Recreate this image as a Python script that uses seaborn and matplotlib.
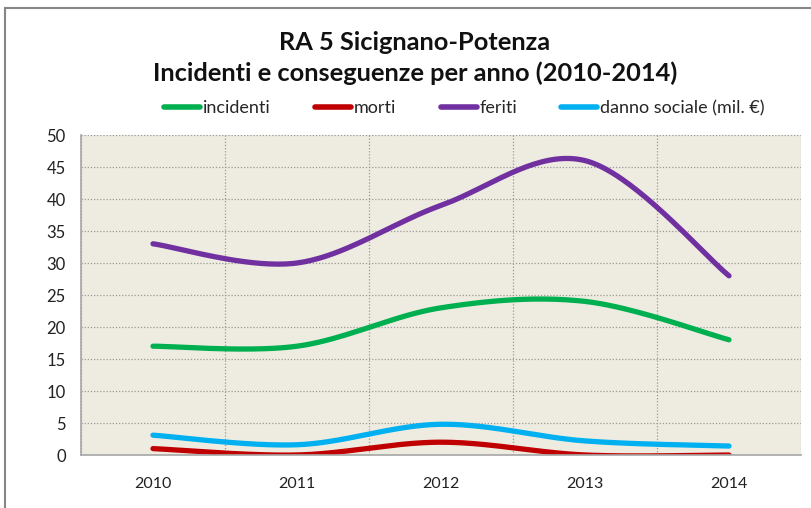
import numpy as np
import pandas as pd
import matplotlib
matplotlib.use("Agg")
import matplotlib.pyplot as plt
from matplotlib.lines import Line2D
from matplotlib.patches import Rectangle
import seaborn as sns

# data
years = ["2010", "2011", "2012", "2013", "2014"]
incidenti = [17, 17, 23, 24, 18]
morti = [1, 0, 2, 0, 0]
feriti = [33, 30, 39, 46, 28]
danno_sociale = [3.1, 1.6, 4.8, 2.2, 1.4]

series_names = ["incidenti", "morti", "feriti", "danno sociale (mil. €)"]
series_values = [incidenti, morti, feriti, danno_sociale]
colors = ["#00B050", "#C00000", "#7030A0", "#00B0F0"]


def smooth(ys, n=40):
    """Bezier smoothing like the spreadsheet 'smoothed line' option."""
    x = np.arange(len(ys), dtype=float)
    y = np.asarray(ys, dtype=float)
    xs_out, ys_out = [], []
    t = np.linspace(0, 1, n)
    for i in range(len(y) - 1):
        im1 = max(i - 1, 0)
        ip2 = min(i + 2, len(y) - 1)
        p0 = np.array([x[i], y[i]])
        p3 = np.array([x[i + 1], y[i + 1]])
        p1 = p0 + (np.array([x[i + 1], y[i + 1]]) - np.array([x[im1], y[im1]])) / 6
        p2 = p3 - (np.array([x[ip2], y[ip2]]) - np.array([x[i], y[i]])) / 6
        pts = ((1 - t) ** 3)[:, None] * p0 + (3 * (1 - t) ** 2 * t)[:, None] * p1 \
            + (3 * (1 - t) * t ** 2)[:, None] * p2 + (t ** 3)[:, None] * p3
        xs_out.extend(pts[:, 0])
        ys_out.extend(pts[:, 1])
    return np.array(xs_out), np.array(ys_out)


sns.set_style("white")
plt.rcParams["font.family"] = ["Lato", "DejaVu Sans"]

fig = plt.figure(figsize=(8.12, 5.08), dpi=100)
ax = fig.add_axes([81 / 812, 53 / 508, 720 / 812, 320 / 508])
ax.set_facecolor("#EEECE1")

# outer chart border (only the top and left edges are visible in the crop)
fig.patches.append(Rectangle((5 / 812, -0.1), 1.2, 0.1 + 500 / 508, transform=fig.transFigure,
                             fill=False, edgecolor="#868686", lw=1.5))

for name, vals, col in zip(series_names, series_values, colors):
    sx, sy = smooth(vals)
    df = pd.DataFrame({"x": sx, "y": sy})
    sns.lineplot(data=df, x="x", y="y", color=col, lw=3.8, ax=ax,
                 sort=False, estimator=None, solid_capstyle="round")

ax.set_xlim(-0.5, 4.5)
ax.set_ylim(0, 50)
ax.set_yticks(range(0, 51, 5))
ax.set_xticks(range(len(years)))
ax.set_xticklabels(years)
ax.set_xticks(np.arange(-0.5, 4.6, 1), minor=True)
ax.set_xlabel("")
ax.set_ylabel("")

ax.grid(True, axis="y", which="major", color="#999999", ls=(0, (1, 1.5)), lw=0.9)
ax.grid(True, axis="x", which="minor", color="#999999", ls=(0, (1, 1.5)), lw=0.9)
ax.grid(False, axis="x", which="major")
ax.set_axisbelow(True)

for s in ["top", "right"]:
    ax.spines[s].set_visible(False)
for s in ["left", "bottom"]:
    ax.spines[s].set_color("#A6A6A6")
    ax.spines[s].set_linewidth(1.2)

ax.tick_params(axis="y", which="major", direction="out", length=5, color="#A6A6A6",
               labelsize=12, labelcolor="#222222", pad=6)
ax.tick_params(axis="x", which="major", length=0, labelsize=11.5,
               labelcolor="#222222", pad=16)
ax.tick_params(axis="x", which="minor", direction="out", length=5, color="#A6A6A6")

fig.text(0.511, 0.917, "RA 5 Sicignano-Potenza", ha="center", va="center",
         fontsize=18.3, fontweight="bold", color="#111111")
fig.text(0.511, 0.856, "Incidenti e conseguenze per anno (2010-2014)", ha="center",
         va="center", fontsize=18.3, fontweight="bold", color="#111111")

handles = [Line2D([0], [0], color=c, lw=4, solid_capstyle="round") for c in colors]
fig.legend(handles, series_names, loc="center", bbox_to_anchor=(0.572, 0.787), ncol=4,
           frameon=False, fontsize=13, handlelength=2.0, handletextpad=0.15,
           columnspacing=2.45)

fig.savefig("out.png", dpi=100)
